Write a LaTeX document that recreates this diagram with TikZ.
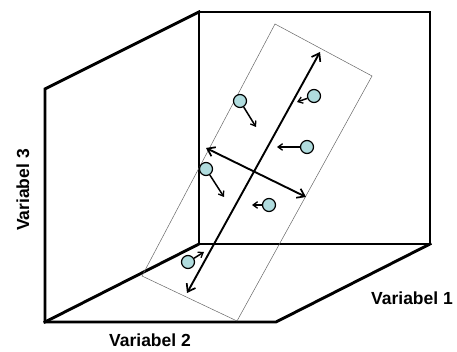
\documentclass[tikz,border=0pt]{standalone}
\usepackage{fontspec}
\setmainfont{Liberation Sans}
\usetikzlibrary{arrows.meta}
\definecolor{dotfill}{RGB}{176,220,222}
\begin{document}
\begin{tikzpicture}[x=1pt,y=1pt,
  boxline/.style={line width=2.9pt,line join=miter,line cap=rect},
  planeline/.style={line width=0.5pt,draw=black!60},
  axisline/.style={line width=1.9pt,{Straight Barb[length=7pt,width=10pt,line width=1.7pt]}-{Straight Barb[length=7pt,width=10pt,line width=1.7pt]}},
  moveline/.style={line width=1.5pt,-{Straight Barb[length=4.5pt,width=6.5pt,line width=1.3pt]}},
  dot/.style={circle,draw=black,line width=1.2pt,fill=dotfill,minimum size=13pt,inner sep=0pt},
  lab/.style={font=\fontsize{17.5}{17.5}\selectfont\bfseries,inner sep=0pt}]
\useasboundingbox (0,0) rectangle (457,352);
% box corners
\coordinate (A) at (199,340);
\coordinate (B) at (430,340);
\coordinate (C) at (430,108);
\coordinate (D) at (199,108);
\coordinate (E) at (45,263);
\coordinate (F) at (45,30);
\coordinate (G) at (276,30);
\draw[boxline] (A) -- (B) -- (C) -- (D) -- cycle;
\draw[boxline] (A) -- (E) -- (F) -- (G) -- (C);
\draw[boxline] (F) -- (D);
% plane
\coordinate (P1) at (142,76);
\coordinate (P2) at (275,328);
\coordinate (P3) at (372,276);
\coordinate (P4) at (237,31);
\draw[planeline] (P1) -- (P2) -- (P3) -- (P4) -- cycle;
% axes
\coordinate (M1) at (187,59);
\coordinate (M2) at (320,300);
\draw[axisline] (M1) -- (M2);
\coordinate (S1) at (206,204);
\coordinate (S2) at (306,155);
\draw[axisline] (S1) -- (S2);
% dots
\node[dot] (d1) at (240,251) {};
\coordinate (t1) at (256,225);
\node[dot] (d2) at (314,256) {};
\coordinate (t2) at (297,250);
\node[dot] (d3) at (307,205) {};
\coordinate (t3) at (277,205);
\node[dot] (d4) at (206,183) {};
\coordinate (t4) at (224,155);
\node[dot] (d5) at (269,147) {};
\coordinate (t5) at (252,147);
\node[dot] (d6) at (188,90) {};
\coordinate (t6) at (204,100);
\foreach \i in {1,...,6} \draw[moveline] (d\i) -- (t\i);
% labels
\node[lab,anchor=base] (v2) at (150,5) {Variabel 2};
\node[lab,anchor=base] (v1) at (412,47) {Variabel 1};
\node[lab,anchor=base,rotate=90] (v3) at (29,162) {Variabel 3};
\end{tikzpicture}
\end{document}
